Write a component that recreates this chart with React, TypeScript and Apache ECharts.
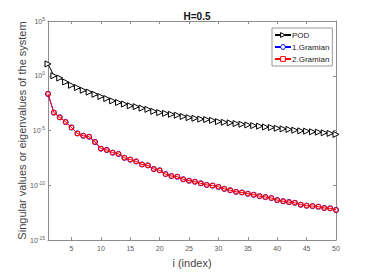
import React, { useEffect, useRef } from "react";
import * as echarts from "echarts";

const indices: number[] = Array.from({ length: 50 }, (_, k) => k + 1);

const podValues: number[] = [
  1.2e1, 1.0e0, 6.2e-1, 2.7e-1, 1.35e-1, 8.3e-2, 4.7e-2, 3.2e-2, 2.0e-2, 1.26e-2,
  8.3e-3, 5.1e-3, 3.6e-3, 2.6e-3, 1.8e-3, 1.5e-3, 1.1e-3, 8.5e-4, 5.6e-4, 4.3e-4,
  3.7e-4, 3.0e-4, 2.5e-4, 1.9e-4, 1.5e-4, 1.3e-4, 1.1e-4, 1.0e-4, 8.5e-5, 6.5e-5,
  5.6e-5, 5.0e-5, 4.3e-5, 3.7e-5, 3.2e-5, 2.8e-5, 2.5e-5, 2.1e-5, 1.9e-5, 1.6e-5,
  1.4e-5, 1.26e-5, 1.07e-5, 9.3e-6, 8.7e-6, 7.6e-6, 7.1e-6, 6.2e-6, 5.4e-6, 4.4e-6,
];

const gramian1Values: number[] = [
  2.2e-2, 4.3e-4, 1.6e-4, 6.0e-5, 1.9e-5, 5.4e-6, 3.3e-6, 2.7e-6, 8.9e-7, 2.2e-7,
  1.66e-7, 9.5e-8, 7.2e-8, 3.2e-8, 2.2e-8, 1.5e-8, 7.9e-9, 6.5e-9, 3.0e-9, 2.3e-9,
  1.05e-9, 6.9e-10, 6.0e-10, 3.5e-10, 2.6e-10, 2.1e-10, 1.5e-10, 1.07e-10, 9.3e-11, 7.1e-11,
  4.7e-11, 3.5e-11, 2.5e-11, 2.2e-11, 1.66e-11, 1.35e-11, 1.02e-11, 8.3e-12, 6.8e-12, 4.4e-12,
  3.5e-12, 2.9e-12, 2.5e-12, 1.66e-12, 1.35e-12, 1.26e-12, 1.1e-12, 8.3e-13, 7.8e-13, 5.5e-13,
];

const gramian2Values: number[] = [
  2.2e-2, 4.3e-4, 1.6e-4, 6.0e-5, 1.9e-5, 5.4e-6, 3.3e-6, 2.7e-6, 8.9e-7, 2.2e-7,
  1.66e-7, 9.5e-8, 7.2e-8, 3.2e-8, 2.2e-8, 1.5e-8, 7.9e-9, 6.5e-9, 3.0e-9, 2.3e-9,
  1.05e-9, 6.9e-10, 6.0e-10, 3.5e-10, 2.6e-10, 2.1e-10, 1.5e-10, 1.07e-10, 9.3e-11, 7.1e-11,
  4.7e-11, 3.5e-11, 2.5e-11, 2.2e-11, 1.66e-11, 1.35e-11, 1.02e-11, 8.3e-12, 6.8e-12, 4.4e-12,
  3.5e-12, 2.9e-12, 2.5e-12, 1.66e-12, 1.35e-12, 1.26e-12, 1.1e-12, 8.3e-13, 7.8e-13, 5.5e-13,
];

const xTicks: number[] = [5, 10, 15, 20, 25, 30, 35, 40, 45, 50];
const seriesNames: string[] = ["POD", "1.Gramian", "2.Gramian"];
const seriesColors: string[] = ["#000000", "#0000ff", "#ff0000"];
const titleText = "H=0.5";
const xName = "i (index)";
const yName = "Singular values or eigenvalues of the system";

const FONT = "Liberation Sans, Arial, sans-serif";
const AXIS_COLOR = "#8c8c8c";
const TEXT_COLOR = "#5a5a5a";
const NAME_COLOR = "#444";

export default function App() {
  const ref = useRef<HTMLDivElement>(null);
  useEffect(() => {
    if (!ref.current) return;
    const chart = echarts.init(ref.current, undefined, { renderer: "svg" });
    const pair = (vals: number[]) => indices.map((x, k) => [x, vals[k]]);
    const expFmt = (v: number) => {
      const e = Math.round(Math.log10(v));
      return `{b|10}{s|${e}}`;
    };
    chart.setOption({
      animation: false,
      backgroundColor: "#fff",
      textStyle: { fontFamily: FONT },
      title: {
        text: titleText,
        left: 192,
        top: 6,
        textAlign: "center",
        textStyle: { fontSize: 10, fontWeight: "bold", color: "#111", fontFamily: FONT },
      },
      grid: { left: 48, right: 35, top: 21, bottom: 30, show: false },
      legend: {
        data: seriesNames.map((n, k) => ({
          name: n,
          itemStyle: { color: "#fff", borderColor: seriesColors[k], borderWidth: 1 },
        })),
        orient: "vertical",
        left: 272,
        top: 28,
        itemWidth: 16,
        itemHeight: 6,
        itemGap: 4,
        padding: [3, 3, 3, 2],
        borderColor: "#999",
        borderWidth: 1,
        backgroundColor: "#fff",
        textStyle: { fontSize: 8, color: "#222", padding: [0, 0, 0, -4] },
      },
      xAxis: [
        {
          type: "value",
          min: 1,
          max: 50,
          name: xName,
          nameLocation: "middle",
          nameGap: 17,
          nameMoveOverlap: false,
          nameTextStyle: { fontSize: 11, color: NAME_COLOR },
          axisLine: { lineStyle: { color: AXIS_COLOR } },
          axisTick: { inside: true, length: 3, customValues: xTicks, lineStyle: { color: AXIS_COLOR } },
          axisLabel: { customValues: xTicks, fontSize: 7, color: TEXT_COLOR, margin: 5 },
          splitLine: { show: false },
        },
        {
          type: "value",
          position: "top",
          min: 1,
          max: 50,
          axisLine: { show: true, lineStyle: { color: AXIS_COLOR } },
          axisTick: { inside: true, length: 3, customValues: xTicks, lineStyle: { color: AXIS_COLOR } },
          axisLabel: { show: false },
          splitLine: { show: false },
        },
      ],
      yAxis: [
        {
          type: "log",
          logBase: 10,
          min: 1e-15,
          max: 1e5,
          interval: 5,
          name: yName,
          nameLocation: "middle",
          nameGap: 21,
          nameMoveOverlap: false,
          nameTextStyle: { fontSize: 11, color: NAME_COLOR },
          axisLine: { show: true, lineStyle: { color: AXIS_COLOR } },
          axisTick: { show: true, inside: true, length: 3, lineStyle: { color: AXIS_COLOR } },
          minorTick: { show: false },
          axisLabel: {
            formatter: expFmt,
            margin: 3,
            rich: {
              b: { fontSize: 7, color: TEXT_COLOR, fontFamily: FONT },
              s: { fontSize: 5, color: TEXT_COLOR, fontFamily: FONT, padding: [0, 0, 5, 0] },
            },
          },
          splitLine: { show: false },
        },
        {
          type: "log",
          logBase: 10,
          min: 1e-15,
          max: 1e5,
          interval: 5,
          position: "right",
          axisLine: { show: true, lineStyle: { color: AXIS_COLOR } },
          axisTick: { show: true, inside: true, length: 3, lineStyle: { color: AXIS_COLOR } },
          axisLabel: { show: false },
          splitLine: { show: false },
        },
      ],
      series: [
        {
          name: seriesNames[0],
          type: "line",
          data: pair(podValues),
          color: seriesColors[0],
          symbol: "triangle",
          symbolRotate: -90,
          symbolSize: 6,
          lineStyle: { color: seriesColors[0], width: 1 },
          itemStyle: { color: "#fff", borderColor: seriesColors[0], borderWidth: 1 },
          z: 3,
        },
        {
          name: seriesNames[1],
          type: "line",
          data: pair(gramian1Values),
          color: seriesColors[1],
          symbol: "circle",
          symbolSize: 5,
          lineStyle: { color: seriesColors[1], width: 1 },
          itemStyle: { color: "#fff", borderColor: seriesColors[1], borderWidth: 1 },
          z: 2,
        },
        {
          name: seriesNames[2],
          type: "line",
          data: pair(gramian2Values),
          color: seriesColors[2],
          symbol: "rect",
          symbolSize: 4,
          lineStyle: { color: seriesColors[2], width: 1 },
          itemStyle: { color: "rgba(255,255,255,0)", borderColor: seriesColors[2], borderWidth: 1 },
          z: 4,
        },
      ],
    });
    return () => chart.dispose();
  }, []);
  return (
    <div
      ref={ref}
      style={{ position: "absolute", left: 0, top: 0, width: 371, height: 273 }}
    />
  );
}
